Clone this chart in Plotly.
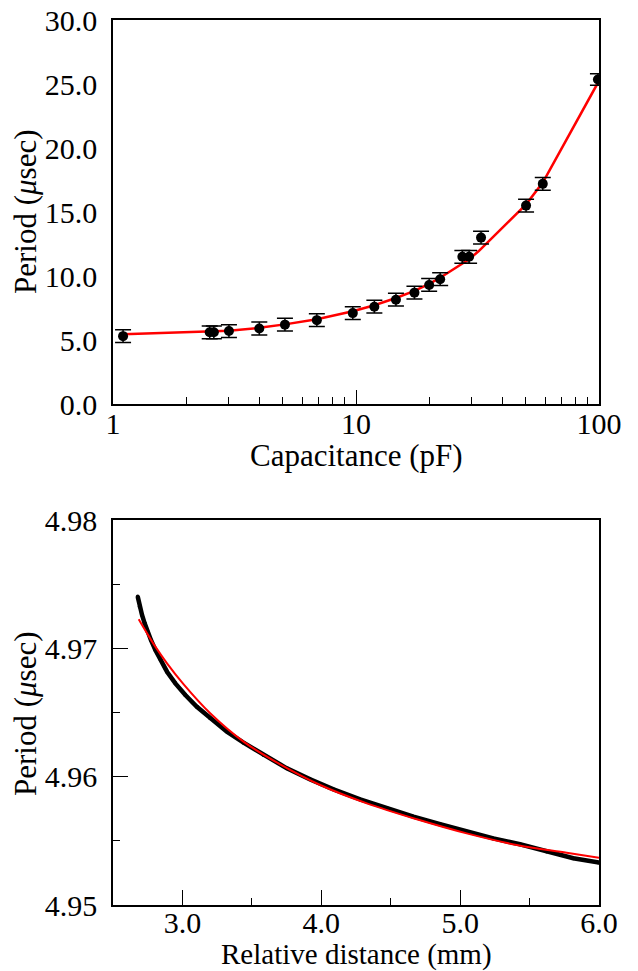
import plotly.graph_objects as go

# ---- top panel: period vs capacitance ----
cap_pf = [1.1, 2.5, 2.6, 3.0, 4.0, 5.1, 6.9, 9.7, 11.9, 14.6, 17.4, 20.0, 22.2, 27.4, 29.2, 32.7, 50.1, 58.7, 99.0]
period_us = [5.3, 5.6, 5.6, 5.7, 5.9, 6.2, 6.55, 7.1, 7.6, 8.15, 8.7, 9.3, 9.75, 11.5, 11.5, 13.0, 15.5, 17.2, 25.35]
period_err = [0.5, 0.5, 0.5, 0.5, 0.5, 0.5, 0.5, 0.5, 0.5, 0.5, 0.5, 0.5, 0.5, 0.5, 0.5, 0.5, 0.5, 0.5, 0.45]

fit_cap = [1.1, 2.55, 3.0, 4.0, 5.1, 6.9, 9.7, 11.9, 14.6, 17.4, 20.0, 22.2, 27.4, 29.2, 32.0, 50.1, 58.7, 99.0]
fit_period = [5.44, 5.66, 5.73, 5.95, 6.22, 6.62, 7.25, 7.72, 8.28, 8.84, 9.38, 9.86, 10.95, 11.3, 11.95, 15.6, 17.3, 25.1]

# ---- bottom panel: period vs relative distance ----
dist_mm = [2.678, 2.692, 2.709, 2.728, 2.749, 2.773, 2.805, 2.841, 2.889, 2.949, 3.021, 3.104,
           3.200, 3.320, 3.440, 3.584, 3.752, 3.920, 4.088, 4.280, 4.472, 4.664, 4.856, 5.047,
           5.239, 5.431, 5.623, 5.815, 6.000]
dist_period = [4.97403, 4.97325, 4.97260, 4.97195, 4.97130, 4.97065, 4.96987, 4.96914, 4.96818,
               4.96727, 4.96636, 4.96545, 4.96455, 4.96351, 4.96265, 4.96169, 4.96065, 4.95979,
               4.95901, 4.95823, 4.95753, 4.95688, 4.95629, 4.95571, 4.95519, 4.95473, 4.95416,
               4.95364, 4.95330]

fit_dist = [2.685, 2.745, 2.805, 2.889, 3.009, 3.200, 3.440, 3.704, 3.992, 4.328, 4.688, 5.047,
            5.407, 5.767, 6.000]
fit_dist_period = [4.97226, 4.97117, 4.97013, 4.96883, 4.96719, 4.96494, 4.96273, 4.96096,
                   4.95935, 4.95792, 4.95668, 4.95558, 4.95468, 4.95408, 4.95369]

x_title_top = "Capacitance (pF)"
x_title_bottom = "Relative distance (mm)"
y_title = "Period (<i>μ</i>sec)"

FONT = "Liberation Serif, Times New Roman, DejaVu Serif, serif"
TICKFONT = dict(family=FONT, size=30, color="black")
TITLEFONT = dict(family=FONT, size=31, color="black")
TITLEFONT_B = dict(family=FONT, size=29, color="black")

fig = go.Figure()

fig.add_trace(go.Scatter(
    x=fit_cap, y=fit_period, mode="lines",
    line=dict(color="#ff0000", width=2.5), xaxis="x", yaxis="y", showlegend=False))
fig.add_trace(go.Scatter(
    x=cap_pf, y=period_us, mode="markers",
    marker=dict(color="black", size=10),
    error_y=dict(type="data", array=period_err, color="black", thickness=1.5, width=8),
    xaxis="x", yaxis="y", showlegend=False))

fig.add_trace(go.Scatter(
    x=dist_mm, y=dist_period, mode="lines+markers",
    line=dict(color="black", width=4.5),
    marker=dict(color="black", size=4),
    xaxis="x2", yaxis="y2", showlegend=False))
fig.add_trace(go.Scatter(
    x=fit_dist, y=fit_dist_period, mode="lines", line_shape="spline",
    line=dict(color="#ff0000", width=2),
    xaxis="x2", yaxis="y2", showlegend=False))

W, H = 638, 971
ML, MR, MT, MB = 113, 39, 20, 66
H_PLOT = H - MT - MB
W_PLOT = W - ML - MR
top_bottom = 1 - 384 / H_PLOT
bot_top = 385 / H_PLOT


def py(px):  # pixel row -> paper y
    return (H - MB - px) / H_PLOT


def px_(pxx):  # pixel column -> paper x
    return (pxx - ML) / W_PLOT


axis_common = dict(showline=True, linecolor="black", linewidth=1.5, mirror=True,
                   showgrid=False, zeroline=False, tickcolor="black", tickwidth=1.2,
                   tickfont=TICKFONT, automargin=False)

fig.update_layout(
    width=W, height=H,
    margin=dict(l=ML, r=MR, t=MT, b=MB),
    paper_bgcolor="white", plot_bgcolor="white",
    xaxis=dict(**axis_common, type="log", range=[0, 2], domain=[0, 1], anchor="y",
               tickvals=[1, 10, 100], ticktext=["1", "10", "100"],
               ticks="inside", ticklen=14, ticklabelstandoff=-8,
               minor=dict(ticks="inside", ticklen=7, tickvals=[2, 3, 4, 5, 6, 7, 8, 9, 20, 30, 40, 50, 60, 70, 80, 90],
                          tickcolor="black", tickwidth=1.2)),
    yaxis=dict(**axis_common, range=[0, 30], domain=[top_bottom, 1], anchor="x",
               tickvals=[0, 5, 10, 15, 20, 25, 30], tickformat=".1f", ticks="",
               ticklabelstandoff=8),
    yaxis3=dict(overlaying="y", side="right", anchor="x", range=[0, 30], automargin=False,
                showgrid=False, zeroline=False, showline=False, showticklabels=False,
                tickvals=[0, 5, 10, 15, 20, 25, 30], ticks="inside", ticklen=15,
                tickcolor="black", tickwidth=1.2,
                minor=dict(ticks="inside", ticklen=7, tickvals=[2.5, 7.5, 12.5, 17.5, 22.5, 27.5],
                           tickcolor="black", tickwidth=1.2)),
    xaxis2=dict(**axis_common, range=[2.5, 6.0], domain=[0, 1], anchor="y2",
                tickvals=[3, 4, 5, 6], tickformat=".1f",
                ticks="inside", ticklen=15, ticklabelstandoff=-10,
                minor=dict(ticks="inside", ticklen=7, tickvals=[3.5, 4.5, 5.5],
                           tickcolor="black", tickwidth=1.2)),
    yaxis2=dict(**axis_common, range=[4.95, 4.98], domain=[0, bot_top], anchor="x2",
                tickvals=[4.95, 4.96, 4.97, 4.98], tickformat=".2f",
                ticks="inside", ticklen=15, ticklabelstandoff=8,
                minor=dict(ticks="inside", ticklen=7, tickvals=[4.955, 4.965, 4.975],
                           tickcolor="black", tickwidth=1.2)),
    annotations=[
        dict(text=x_title_top, xref="paper", yref="paper", x=0.5, y=py(455),
             xanchor="center", yanchor="middle", showarrow=False, font=TITLEFONT),
        dict(text=x_title_bottom, xref="paper", yref="paper", x=0.5, y=py(955),
             xanchor="center", yanchor="middle", showarrow=False, font=TITLEFONT_B,
             borderpad=0),
        dict(text=y_title, xref="paper", yref="paper", x=px_(25), y=py(212),
             xanchor="center", yanchor="middle", textangle=-90, showarrow=False, font=TITLEFONT),
        dict(text=y_title, xref="paper", yref="paper", x=px_(25), y=py(714),
             xanchor="center", yanchor="middle", textangle=-90, showarrow=False, font=TITLEFONT),
    ],
)

fig.write_html("out.html", config={"displayModeBar": False},
               post_script="document.body.style.margin='0px';")
